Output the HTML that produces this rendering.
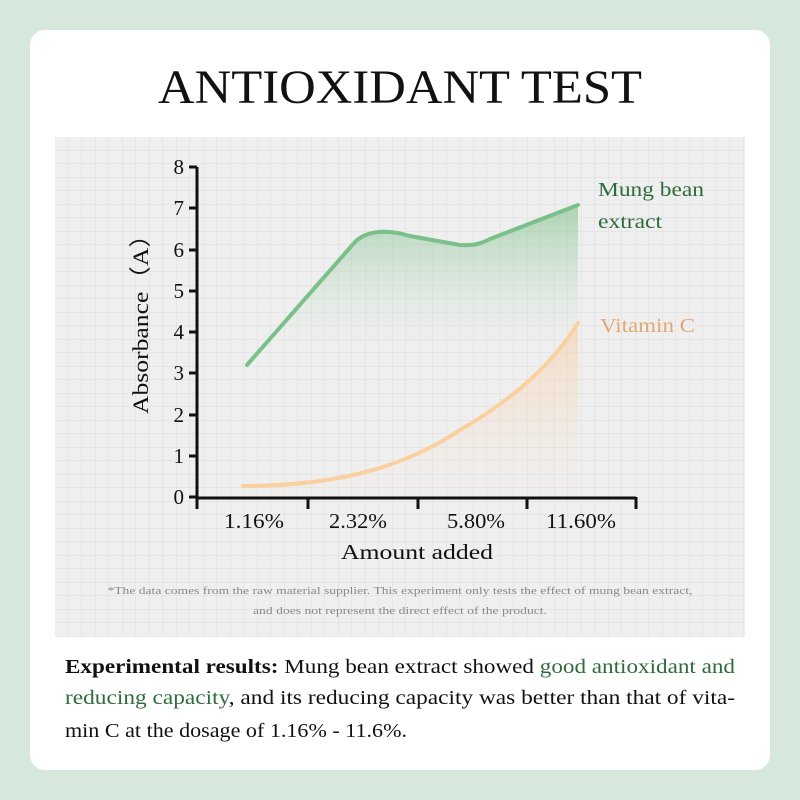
<!DOCTYPE html>
<html><head><meta charset="utf-8"><style>
html,body{margin:0;padding:0;background:#d6e7dc;}
svg{display:block;font-family:"Liberation Serif",serif;}
</style></head><body>
<svg width="800" height="800" viewBox="0 0 800 800" xmlns="http://www.w3.org/2000/svg">
<defs>
<pattern id="grid" x="55" y="137" width="13.5" height="13.5" patternUnits="userSpaceOnUse">
<rect width="13.5" height="13.5" fill="#efefef"/>
<path d="M13.5 0V13.5M0 13.5H13.5" stroke="#dedede" stroke-width="1"/>
</pattern>
<linearGradient id="gg" x1="0" y1="0" x2="0" y2="1">
<stop offset="0" stop-color="#7fbf8a" stop-opacity="0.6"/>
<stop offset="0.5" stop-color="#cfe3d2" stop-opacity="0"/>
</linearGradient>
<linearGradient id="og" x1="0" y1="0" x2="0" y2="1">
<stop offset="0" stop-color="#f8c89a" stop-opacity="0.5"/>
<stop offset="1" stop-color="#f8dcc0" stop-opacity="0"/>
</linearGradient>
</defs>
<rect x="0" y="0" width="800" height="800" fill="#d6e7dc"/>
<rect x="30" y="30" width="740" height="740" rx="15" fill="#fff"/>
<text x="400" y="103" font-size="48" text-anchor="middle" fill="#111" textLength="484" lengthAdjust="spacingAndGlyphs">ANTIOXIDANT TEST</text>
<rect x="55" y="137" width="690" height="500" fill="url(#grid)"/>
<path d="M247 365 L355 242 C368 229 390 230 410 236 L460 245 C475 246 482 243 490 239 L578 205 L578 497 L247 497 Z" fill="url(#gg)"/>
<path d="M243 486 C330 486 400 470 460 430 C520 395 555 360 578 323 L578 497 L243 497 Z" fill="url(#og)"/>
<path d="M247 365 L355 242 C368 229 390 230 410 236 L460 245 C475 246 482 243 490 239 L578 205" fill="none" stroke="#79c08a" stroke-width="4" stroke-linecap="round" stroke-linejoin="round"/>
<path d="M243 486 C330 486 400 470 460 430 C520 395 555 360 578 323" fill="none" stroke="#fbd09f" stroke-width="4" stroke-linecap="round"/>
<g stroke="#111" stroke-width="3" fill="none">
<path d="M197 167 V498 H636"/>
<path d="M197 167h-8M197 208h-8M197 250h-8M197 291h-8M197 332h-8M197 373h-8M197 415h-8M197 456h-8M197 497h-8"/>
<path d="M197 497v12M308 497v12M418 497v12M527 497v12M636 497v12"/>
</g>
<g font-size="21" fill="#111" text-anchor="end">
<text x="184" y="174">8</text><text x="184" y="215">7</text><text x="184" y="257">6</text>
<text x="184" y="298">5</text><text x="184" y="339">4</text><text x="184" y="380">3</text>
<text x="184" y="422">2</text><text x="184" y="463">1</text><text x="184" y="504">0</text>
</g>
<g font-size="21" fill="#111" text-anchor="middle">
<text x="254" y="528" textLength="60" lengthAdjust="spacingAndGlyphs">1.16%</text>
<text x="358" y="528" textLength="58" lengthAdjust="spacingAndGlyphs">2.32%</text>
<text x="476" y="528" textLength="58" lengthAdjust="spacingAndGlyphs">5.80%</text>
<text x="581" y="528" textLength="70" lengthAdjust="spacingAndGlyphs">11.60%</text>
<text x="417" y="559" textLength="152" lengthAdjust="spacingAndGlyphs">Amount added</text>
</g>
<text transform="translate(148,318) rotate(-90)" font-size="22" fill="#111" text-anchor="middle" textLength="192" lengthAdjust="spacingAndGlyphs">Absorbance（A）</text>
<text x="598" y="196" font-size="20" fill="#2e6b3c" textLength="106" lengthAdjust="spacingAndGlyphs">Mung bean</text>
<text x="598" y="228" font-size="20" fill="#2e6b3c" textLength="64" lengthAdjust="spacingAndGlyphs">extract</text>
<text x="600" y="332" font-size="20" fill="#e0a874" textLength="95" lengthAdjust="spacingAndGlyphs">Vitamin C</text>
<g font-size="11" fill="#888" text-anchor="middle">
<text x="400" y="594" textLength="585" lengthAdjust="spacingAndGlyphs">*The data comes from the raw material supplier. This experiment only tests the effect of mung bean extract,</text>
<text x="400" y="614" textLength="294" lengthAdjust="spacingAndGlyphs">and does not represent the direct effect of the product.</text>
</g>
<g font-size="20" fill="#111">
<text x="65" y="673" textLength="670" lengthAdjust="spacingAndGlyphs"><tspan font-weight="bold">Experimental results:</tspan> Mung bean extract showed <tspan fill="#2e6b3c">good antioxidant and</tspan></text>
<text x="65" y="704" textLength="670" lengthAdjust="spacingAndGlyphs"><tspan fill="#2e6b3c">reducing capacity</tspan>, and its reducing capacity was better than that of vita-</text>
<text x="65" y="737" textLength="342" lengthAdjust="spacingAndGlyphs">min C at the dosage of 1.16% - 11.6%.</text>
</g>
</svg>
</body></html>
